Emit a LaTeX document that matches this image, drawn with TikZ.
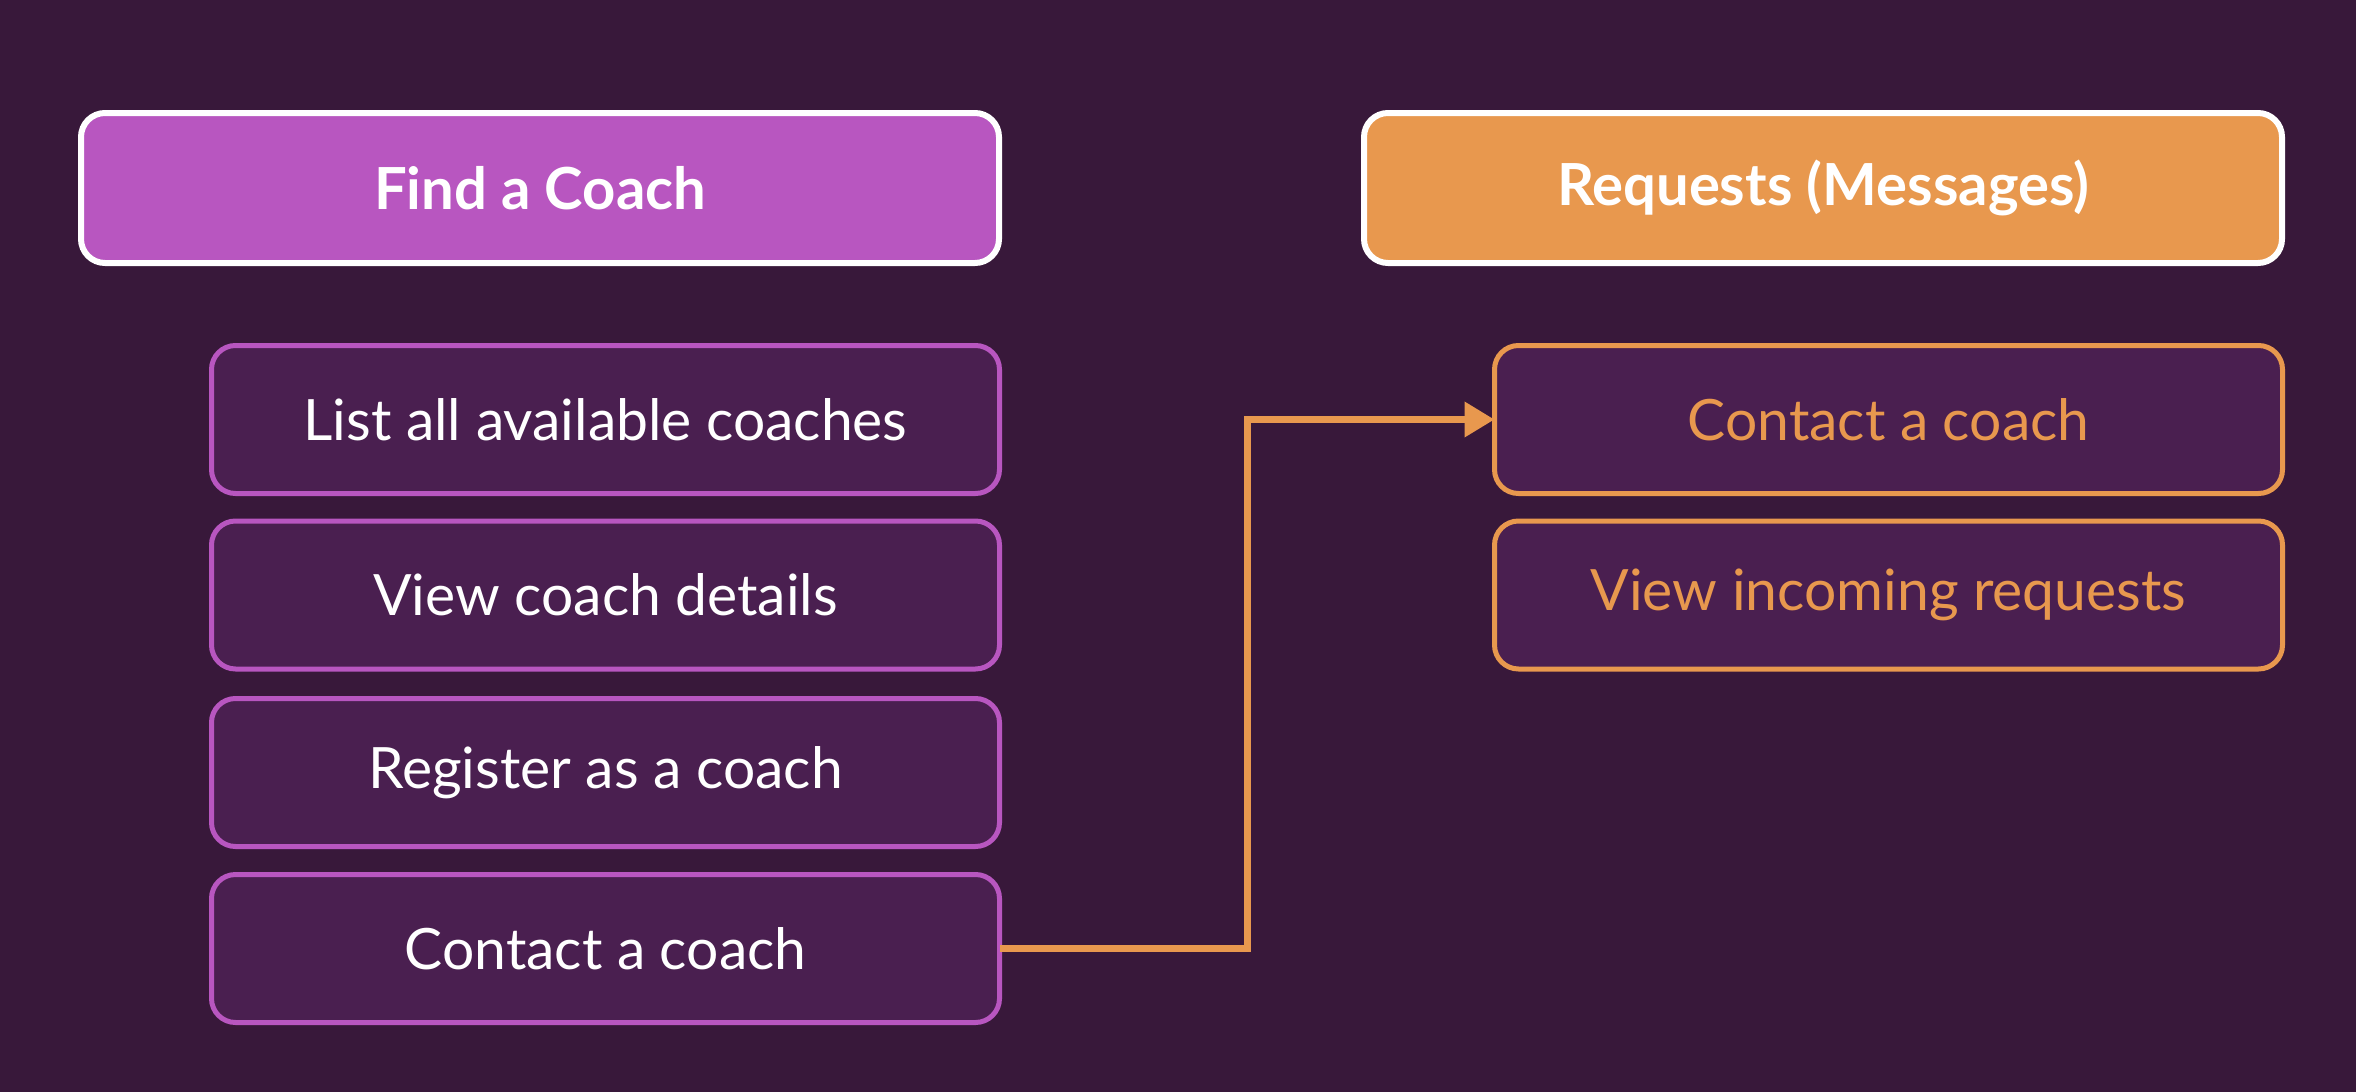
\documentclass[tikz,border=0pt]{standalone}
\usepackage{fontspec}
\setmainfont{Lato}
\usetikzlibrary{arrows.meta}
\definecolor{bgc}{HTML}{38183A}
\definecolor{itemc}{HTML}{4A1F50}
\definecolor{purp}{HTML}{B856C0}
\definecolor{oran}{HTML}{E8984E}
\begin{document}
\begin{tikzpicture}[x=1pt,y=-1pt,
  header/.style={draw=white,line width=6pt,rounded corners=24pt,minimum width=918pt,minimum height=150pt,inner sep=0pt,outer sep=0pt,font=\fontsize{58}{68}\selectfont\bfseries,text=white},
  itemL/.style={draw=purp,fill=itemc,line width=5pt,rounded corners=24pt,minimum width=788pt,minimum height=148pt,inner sep=0pt,outer sep=0pt,font=\fontsize{57}{66}\selectfont,text=white},
  itemR/.style={itemL,draw=oran,text=oran},
  conn/.style={draw=oran,line width=7pt,-{Triangle[length=30pt,width=34pt]}}]
\fill[bgc] (0,0) rectangle (2356,1092);
\useasboundingbox (0,0) rectangle (2356,1092);
\node[header,fill=purp] (h1) at (540,188) {Find a Coach};
\node[header,fill=oran] (h2) at (1823,188) {Requests (Messages)};
\node[itemL] (l1) at (605.5,419.5) {List all available coaches};
\node[itemL] (l2) at (605.5,595) {View coach details};
\node[itemL] (l3) at (605.5,772.5) {Register as a coach};
\node[itemL] (l4) at (605.5,948.5) {Contact a coach};
\node[itemR] (r1) at (1888.5,419.5) {Contact a coach};
\node[itemR] (r2) at (1888.5,595) {View incoming requests};
\coordinate (bend) at (1247,948.5);
\draw[conn] (l4.east) -- (bend) |- (r1.west);
\end{tikzpicture}
\end{document}
